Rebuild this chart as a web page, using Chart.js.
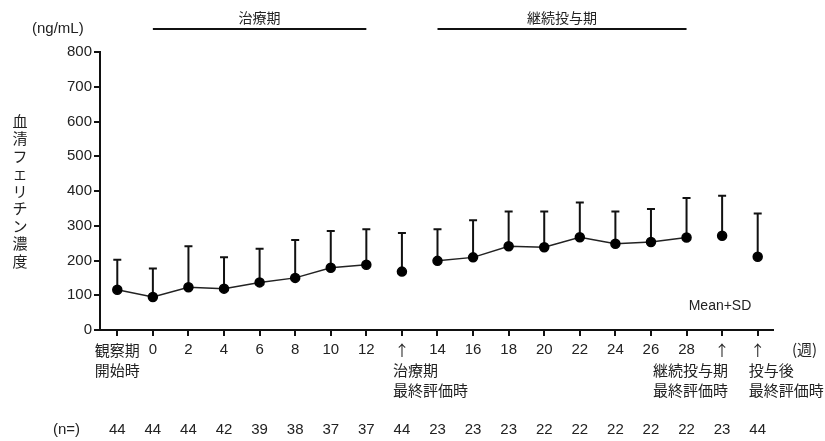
<!DOCTYPE html>
<html lang="ja">
<head>
<meta charset="utf-8">
<script src="https://cdn.jsdelivr.net/npm/chart.js@4.4.1/dist/chart.umd.min.js"></script>
<style>
  body { margin: 0; background: #fff; }
</style>
</head>
<body>
<canvas id="myChart" width="825" height="441"></canvas>
<script>
// x categories (first line of each label)
const labels = [['観察期', '開始時'], '0', '2', '4', '6', '8', '10', '12', '↑',
  '14', '16', '18', '20', '22', '24', '26', '28', '↑', '↑'];
// extra label lines under the arrows
const extraLabels = {
  8: ['治療期', '最終評価時'],
  17: ['継続投与期', '最終評価時'],
  18: ['投与後', '最終評価時']
};
const means = [116, 95, 123, 119, 137, 150, 179, 188, 168, 199, 209, 241, 238, 267, 248, 253, 266, 271, 211];
const sds   = [86, 82, 118, 90, 97, 109, 106, 102, 111, 91, 107, 100, 103, 100, 93, 95, 114, 115, 124];
const nValues = [44, 44, 44, 42, 39, 38, 37, 37, 44, 23, 23, 23, 22, 22, 22, 22, 22, 23, 44];
// points with same group number get joined, 0 = standalone
const groups = [1, 1, 1, 1, 1, 1, 1, 1, 0, 2, 2, 2, 2, 2, 2, 2, 2, 0, 0];
// period bars: [label, from index, to index]
const periods = [['治療期', 1, 7], ['継続投与期', 9, 16]];
const yTicks = [0, 100, 200, 300, 400, 500, 600, 700, 800];

const numFont = '"Liberation Sans", Arial, "Noto Sans CJK JP", sans-serif';
const jpFont = '"Noto Sans CJK JP", "Liberation Sans", sans-serif';
const ink = '#222';

const errorBars = {
  id: 'errorBars',
  beforeDatasetsDraw(chart) {
    const { ctx, scales: { x, y } } = chart;
    ctx.save();
    ctx.strokeStyle = '#111';
    ctx.lineWidth = 2;
    means.forEach((m, i) => {
      const px = x.getPixelForValue(i);
      const top = y.getPixelForValue(m + sds[i]);
      ctx.beginPath();
      ctx.moveTo(px, y.getPixelForValue(m));
      ctx.lineTo(px, top);
      ctx.moveTo(px - 4, top);
      ctx.lineTo(px + 4, top);
      ctx.stroke();
    });
    ctx.restore();
  }
};

const annotations = {
  id: 'annotations',
  afterDraw(chart) {
    const { ctx, scales: { x, y } } = chart;
    ctx.save();
    ctx.fillStyle = ink;
    ctx.textBaseline = 'middle';

    // period bars on top
    ctx.strokeStyle = '#111';
    ctx.lineWidth = 2;
    periods.forEach(([name, a, b]) => {
      const x0 = x.getPixelForValue(a), x1 = x.getPixelForValue(b);
      ctx.beginPath();
      ctx.moveTo(x0, 29);
      ctx.lineTo(x1, 29);
      ctx.stroke();
      ctx.font = '14px ' + jpFont;
      ctx.textAlign = 'center';
      ctx.fillText(name, (x0 + x1) / 2, 18);
    });

    // unit
    ctx.font = '15px ' + numFont;
    ctx.textAlign = 'left';
    ctx.fillText('(ng/mL)', 32, 29);

    // vertical y title
    ctx.font = '15px ' + jpFont;
    ctx.textAlign = 'center';
    Array.from('血清フェリチン濃度').forEach((ch, k) => {
      ctx.fillText(ch, 20, 121 + k * 17.5);
    });

    // extra x label lines
    ctx.font = '15px ' + jpFont;
    Object.keys(extraLabels).forEach(key => {
      const i = +key;
      const px = x.getPixelForValue(i);
      let ax, align;
      if (i === 17) { ax = px + 6; align = 'right'; }
      else { ax = px - 9; align = 'left'; }
      ctx.textAlign = align;
      extraLabels[key].forEach((t, k) => ctx.fillText(t, ax, 370 + k * 20));
    });

    // unit of x
    ctx.textAlign = 'left';
    ctx.fillText('(週)', 792, 349);

    // n row
    ctx.font = '15px ' + numFont;
    ctx.fillText('(n=)', 53, 430);
    ctx.textAlign = 'center';
    nValues.forEach((n, i) => ctx.fillText(String(n), x.getPixelForValue(i), 430));

    ctx.font = '14px ' + numFont;
    ctx.fillText('Mean+SD', 720, 306);
    ctx.restore();
  }
};

new Chart(document.getElementById('myChart').getContext('2d'), {
  type: 'line',
  data: {
    datasets: [{
      data: means.map((m, i) => ({ x: i, y: m })),
      borderColor: '#222',
      borderWidth: 1.5,
      pointRadius: 4.5,
      pointBackgroundColor: '#000',
      pointBorderColor: '#000',
      segment: {
        borderColor: c => (groups[c.p0DataIndex] && groups[c.p0DataIndex] === groups[c.p1DataIndex]) ? '#222' : 'transparent'
      },
      fill: false
    }]
  },
  plugins: [errorBars, annotations],
  options: {
    responsive: false,
    animation: false,
    layout: { padding: { left: 0, right: 52, top: 52, bottom: 0 } },
    plugins: { legend: { display: false }, tooltip: { enabled: false } },
    scales: {
      x: {
        type: 'linear',
        min: -0.486,
        max: 18.43,
        afterBuildTicks: s => { s.ticks = labels.map((l, i) => ({ value: i })); },
        afterFit: s => { s.height = 111; },
        grid: { drawOnChartArea: false, drawTicks: true, tickLength: 6, color: '#111', lineWidth: 2 },
        border: { display: true, color: '#111', width: 2 },
        ticks: {
          autoSkip: false,
          maxRotation: 0,
          padding: 4,
          color: ink,
          font: c => ({
            family: labels[c.index] === '↑' || c.index === 0 ? jpFont : numFont,
            size: 15,
            lineHeight: 1.35
          }),
          callback: v => labels[v]
        }
      },
      y: {
        min: 0,
        max: 800,
        afterBuildTicks: s => { s.ticks = yTicks.map(v => ({ value: v })); },
        afterFit: s => { s.width = 100; },
        grid: { drawOnChartArea: false, drawTicks: true, tickLength: 6, color: '#111', lineWidth: 2 },
        border: { display: true, color: '#111', width: 2 },
        ticks: {
          padding: 2,
          color: ink,
          font: { family: numFont, size: 15 }
        }
      }
    }
  }
});
</script>
</body>
</html>
